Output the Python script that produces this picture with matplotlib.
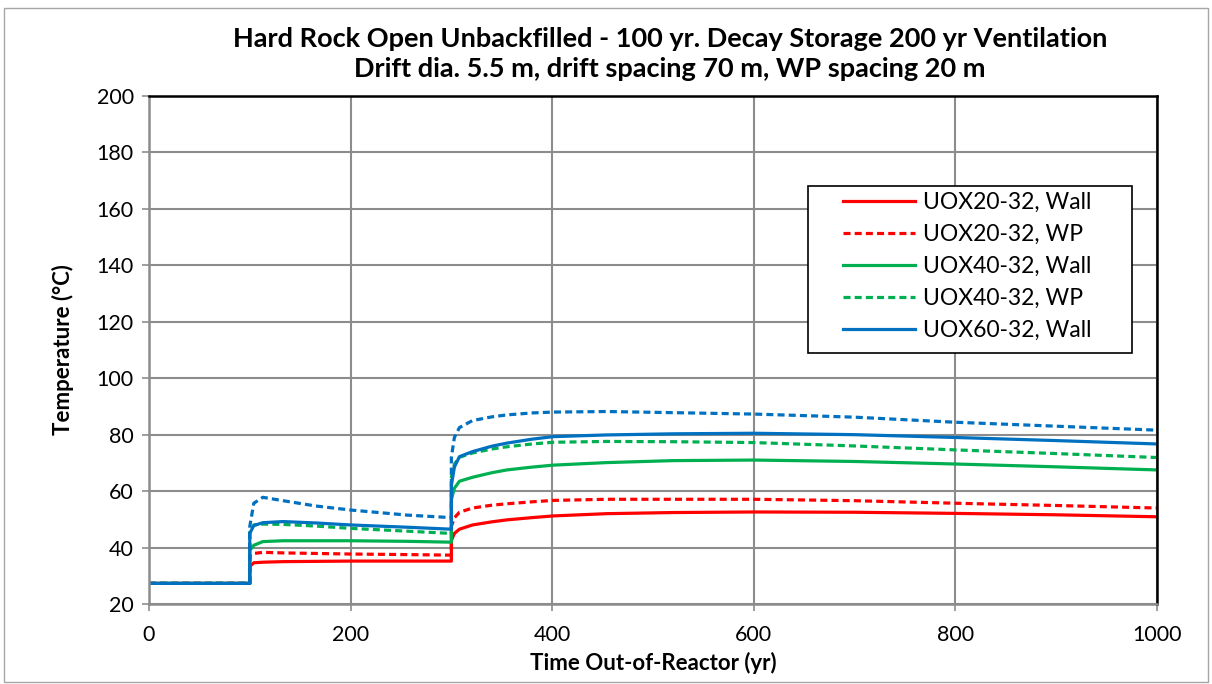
import matplotlib
matplotlib.use("Agg")
import matplotlib.pyplot as plt
from matplotlib.patches import Rectangle

plt.rcParams['font.family'] = ['Lato', 'DejaVu Sans']

# time (yr) and temperatures (C)
t = [0, 100, 100, 104, 113, 133, 166, 200, 256, 300, 300, 303, 308, 321, 340, 355, 380,
     401, 454, 520, 600, 700, 800, 900, 1000]
uox20_wall = [27.3, 27.3, 33.3, 34.6, 34.8, 35.0, 35.1, 35.2, 35.2, 35.2, 42.5, 45.0,
              46.5, 48.0, 49.1, 49.8, 50.6, 51.2, 52.0, 52.4, 52.6, 52.5, 52.1, 51.6, 50.9]
uox20_wp = [27.3, 27.3, 37.0, 37.9, 38.3, 38.1, 37.9, 37.7, 37.5, 37.3, 47.5, 50.5,
            52.5, 54.0, 55.0, 55.5, 56.2, 56.7, 57.1, 57.1, 57.1, 56.6, 55.7, 54.9, 54.0]
uox40_wall = [27.3, 27.3, 39.0, 40.8, 42.1, 42.4, 42.4, 42.4, 42.2, 41.9, 57.0, 61.0,
              63.5, 64.9, 66.5, 67.5, 68.5, 69.2, 70.1, 70.8, 71.0, 70.5, 69.6, 68.6, 67.5]
uox40_wp = [27.3, 27.3, 45.5, 48.0, 48.3, 48.2, 47.6, 46.8, 45.8, 45.0, 65.0, 69.5,
            72.0, 73.5, 74.9, 75.7, 76.7, 77.3, 77.6, 77.5, 77.2, 76.0, 74.6, 73.3, 71.9]
uox60_wall = [27.3, 27.3, 45.0, 47.8, 48.8, 49.2, 48.7, 48.0, 47.2, 46.5, 62.0, 68.5,
              72.2, 74.0, 75.9, 77.0, 78.4, 79.3, 79.9, 80.3, 80.5, 80.0, 79.0, 77.9, 76.7]
uox60_wp = [27.3, 27.3, 47.4, 55.7, 57.8, 56.6, 54.7, 53.3, 51.5, 50.6, 72.0, 79.0,
            82.5, 85.0, 86.3, 87.0, 87.7, 88.0, 88.2, 87.8, 87.3, 86.2, 84.4, 83.0, 81.6]

red = '#FF0000'
green = '#00B050'
blue = '#0070C0'

fig = plt.figure(figsize=(12.12, 6.84), dpi=100)
ax = fig.add_axes([0.1229, 0.1170, 0.8317, 0.7426])
fig.patches.append(Rectangle((0.003, 0.003), 0.994, 0.985, transform=fig.transFigure,
                             fill=False, edgecolor='#A6A6A6', lw=1))

lw = 2.3
ax.plot(t, uox20_wall, color=red, lw=lw, label='UOX20-32, Wall')
ax.plot(t, uox20_wp, color=red, lw=lw, ls=(0, (2.2, 1.3)), label='UOX20-32, WP')
ax.plot(t, uox40_wall, color=green, lw=lw, label='UOX40-32, Wall')
ax.plot(t, uox40_wp, color=green, lw=lw, ls=(0, (2.2, 1.3)), label='UOX40-32, WP')
ax.plot(t, uox60_wall, color=blue, lw=lw, label='UOX60-32, Wall')
ax.plot(t, uox60_wp, color=blue, lw=lw, ls=(0, (2.2, 1.3)), label='_nolegend_')

ax.set_xlim(0, 1000)
ax.set_ylim(20, 200)
ax.set_xticks(range(0, 1001, 200))
ax.set_yticks(range(20, 201, 20))
ax.grid(True, color='#8C8C8C', lw=1.5)
ax.set_axisbelow(True)
ax.tick_params(labelsize=15.5, length=5, color='#8C8C8C', width=1.2, pad=6)
ax.tick_params(axis='x', pad=10)
for s in ['left', 'bottom']:
    ax.spines[s].set_color('#8C8C8C')
    ax.spines[s].set_linewidth(1.8)
for s in ['top', 'right']:
    ax.spines[s].set_color('black')
    ax.spines[s].set_linewidth(1.8)

ax.set_xlabel('Time Out-of-Reactor (yr)', fontsize=16, fontweight='bold', labelpad=5)
ax.set_ylabel('Temperature (°C)', fontsize=16, fontweight='bold', labelpad=16)
ax.set_title('Hard Rock Open Unbackfilled - 100 yr. Decay Storage 200 yr Ventilation\n'
             'Drift dia. 5.5 m, drift spacing 70 m, WP spacing 20 m',
             fontsize=19.5, fontweight='bold', linespacing=1.3, pad=14, x=0.517)

# legend frame drawn separately (wider side padding than the legend gives)
ax.add_patch(Rectangle((0.654, 0.494), 0.321, 0.329, transform=ax.transAxes,
                       facecolor='white', edgecolor='black', lw=1.2, zorder=4))
leg = ax.legend(loc='upper left', bbox_to_anchor=(0.689, 0.812), fontsize=16.5,
                frameon=False, handlelength=3.1, borderpad=0,
                labelspacing=0.48, handletextpad=0.35, borderaxespad=0)
leg.set_zorder(5)

fig.savefig('out.png', dpi=100)
